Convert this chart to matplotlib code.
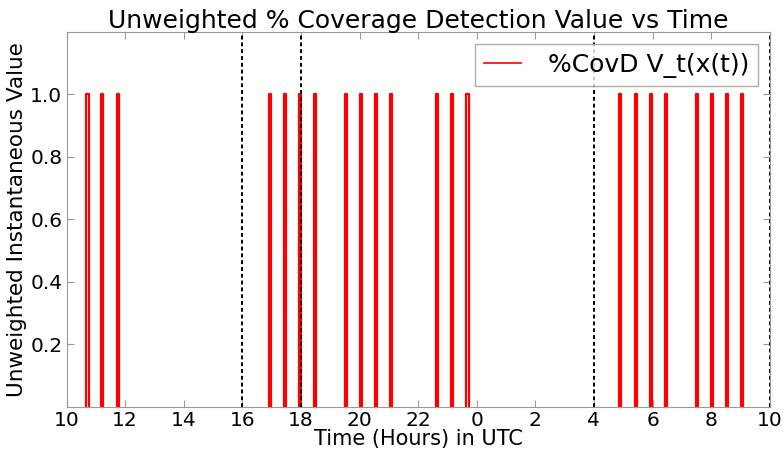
import matplotlib

matplotlib.use("Agg")
import matplotlib.pyplot as plt
import numpy as np

# detection pulse start times, hours since 00 UTC of day 1 (values > 24 wrap to next day)
pulse_starts = [10.68, 11.19, 11.71,
                16.90, 17.41, 17.93, 18.44, 19.49, 20.00, 20.52, 21.03,
                22.61, 23.13, 23.65,
                28.87, 29.39, 29.91, 30.43, 31.49, 32.00, 32.51, 33.03]
pulse_width = 0.07
pulse_value = 1.0
window_marks = [16, 18, 28, 34]
x_ticks = [10, 12, 14, 16, 18, 20, 22, 24, 26, 28, 30, 32, 34]
x_ticklabels = ["10", "12", "14", "16", "18", "20", "22", "0", "2", "4", "6", "8", "10"]
y_ticks = [0.2, 0.4, 0.6, 0.8, 1.0]

# build pulse outlines (baseline at 0 sits under the spine, so break between pulses)
t = []
v = []
for s in pulse_starts:
    t += [s, s, s + pulse_width, s + pulse_width, np.nan]
    v += [0.0, pulse_value, pulse_value, 0.0, np.nan]

fig = plt.figure(figsize=(7.83, 4.5), dpi=100)
ax = fig.add_axes([0.085, 0.096, 0.898, 0.833])

ax.plot(t, v, color="red", lw=1.6, label="%CovD V_t(x(t))")
for xm in window_marks:
    ax.axvline(xm, color="black", lw=1.4, linestyle=(0, (2, 1.5)))

ax.set_xlim(10, 34)
ax.set_ylim(0, 1.2)
ax.set_xticks(x_ticks)
ax.set_xticklabels(x_ticklabels)
ax.set_yticks(y_ticks)
ax.tick_params(direction="in", top=True, right=True, labelsize=14.5, length=5,
               color="#999999", pad=3)
for sp in ax.spines.values():
    sp.set_color("#999999")

ax.set_title("Unweighted % Coverage Detection Value vs Time", fontsize=18, pad=3)
ax.set_xlabel("Time (Hours) in UTC", fontsize=15, labelpad=-1)
ax.set_ylabel("Unweighted Instantaneous Value", fontsize=15.5, labelpad=2)
leg = ax.legend(loc="upper right", fontsize=18, fancybox=False, handlelength=1.5,
                borderaxespad=0.48, borderpad=0.35, handletextpad=1.05)
leg.get_frame().set_edgecolor("#999999")
leg.get_lines()[0].set_linewidth(1.2)

fig.savefig("out.png", dpi=100)
